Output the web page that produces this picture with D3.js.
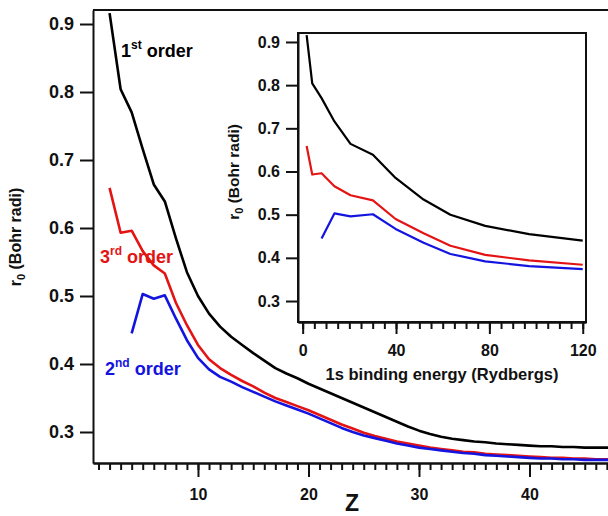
<!DOCTYPE html>
<html><head><meta charset="utf-8">
<script src="https://cdn.jsdelivr.net/npm/d3@7/dist/d3.min.js"></script>
<style>
body{margin:0;background:#fff}
text{font-family:"Liberation Sans",Arial,sans-serif;font-weight:bold;fill:#111}
</style>
</head><body>
<svg id="c" width="608" height="516"></svg>
<script>
// Atomic number Z (main chart x)
const Z = d3.range(2, 49);
// r0 (Bohr radii) per Z
const firstOrder = [0.916,0.804,0.770,0.716,0.664,0.639,0.585,0.535,0.500,0.474,0.455,0.440,
  0.428,0.416,0.405,0.394,0.386,0.379,0.371,0.364,0.357,0.350,0.343,0.336,0.329,0.322,0.315,0.308,
  0.302,0.297,0.293,0.290,0.288,0.286,0.285,0.283,0.282,0.281,0.280,0.279,0.279,0.278,0.278,0.277,0.277,0.277,0.277];
const secondOrder = [null,null,0.445,0.503,0.496,0.501,0.467,0.435,0.409,0.392,0.381,0.374,
  0.366,0.359,0.352,0.345,0.339,0.333,0.327,0.320,0.313,0.306,0.300,0.295,0.291,0.287,0.283,0.280,
  0.277,0.275,0.273,0.271,0.269,0.268,0.266,0.265,0.264,0.263,0.262,0.261,0.261,0.260,0.260,0.259,0.259,0.259,0.258];
const thirdOrder = [0.659,0.593,0.596,0.566,0.545,0.533,0.490,0.457,0.428,0.407,0.394,0.384,
  0.375,0.367,0.358,0.350,0.344,0.338,0.332,0.325,0.318,0.311,0.305,0.299,0.294,0.290,0.286,0.283,
  0.280,0.277,0.275,0.273,0.271,0.270,0.268,0.267,0.266,0.265,0.264,0.263,0.262,0.262,0.261,0.261,0.260,0.260,0.260];
// 1s binding energy (Rydbergs) for Z = 2..13 (inset x)
const bindingEnergy = [1.7,4.1,8.1,13.6,20.5,30.1,39.8,51.8,63.3,78.2,97,120];

const mainYTicks = [0.3,0.4,0.5,0.6,0.7,0.8,0.9];
const mainXTicks = [10,20,30,40];
const insetXTicks = [0,40,80,120];
const insetYTicks = [0.3,0.4,0.5,0.6,0.7,0.8,0.9];

const colors = {first:"#000000", second:"#1414e0", third:"#e41414"};

const svg = d3.select("#c");

// ---------- main chart ----------
const x = d3.scaleLinear().domain([0.5, 50]).range([93, 640]);
const y = d3.scaleLinear().domain([0.2544, 0.9206]).range([463, 10]);

const series = [
  {v:firstOrder, c:colors.first},
  {v:thirdOrder, c:colors.third},
  {v:secondOrder, c:colors.second}
];
const line = d3.line().defined(d => d[1] != null).x(d => x(d[0])).y(d => y(d[1]));
series.forEach(s => {
  svg.append("path").datum(Z.map((z,i)=>[z, s.v[i]]))
    .attr("d", line).attr("fill","none").attr("stroke", s.c)
    .attr("stroke-width", 2.6).attr("stroke-linejoin","round");
});

// frame top
svg.append("line").attr("x1",x.range()[0]).attr("x2",640).attr("y1",10).attr("y2",10)
  .attr("stroke","#111").attr("stroke-width",2);

const yAx = svg.append("g").attr("transform","translate(93,0)")
  .call(d3.axisLeft(y).tickValues(mainYTicks).tickSize(13).tickSizeOuter(0).tickPadding(6).tickFormat(d3.format(".1f")));
yAx.selectAll("text").style("font-size","18px").attr("font-family",null);
const xMinor = svg.append("g").attr("transform","translate(0,463)")
  .call(d3.axisBottom(x).tickValues(d3.range(1,48)).tickSize(7).tickSizeOuter(0).tickFormat(""));
const xAx = svg.append("g").attr("transform","translate(0,463)")
  .call(d3.axisBottom(x).tickValues(mainXTicks).tickSize(14).tickSizeOuter(0).tickPadding(12).tickFormat(d3.format("d")));
xAx.selectAll("text").style("font-size","16px").attr("font-family",null);
[yAx,xMinor,xAx].forEach(g=>{
  g.selectAll("path.domain").attr("stroke","#111").attr("stroke-width",2);
  g.selectAll(".tick line").attr("stroke","#111").attr("stroke-width",2);
});

svg.append("text").attr("x",352).attr("y",511).attr("text-anchor","middle")
  .style("font-size","23px").text("Z");

const yt = svg.append("text").attr("transform","translate(21,237) rotate(-90)")
  .attr("text-anchor","middle").style("font-size","16px");
yt.append("tspan").text("r");
yt.append("tspan").text("0").style("font-size","11px").attr("dy",4);
yt.append("tspan").text(" (Bohr radi)").attr("dy",-4);

function label(xp, yp, big, sup, color){
  const t = svg.append("text").attr("x",xp).attr("y",yp).style("font-size","18px").style("fill",color);
  t.append("tspan").text(big);
  t.append("tspan").text(sup).style("font-size","12px").attr("dy",-8);
  t.append("tspan").text(" order").attr("dy",8);
}
label(121, 57, "1", "st", colors.first);
label(100, 263, "3", "rd", colors.third);
label(105, 375, "2", "nd", colors.second);

// ---------- inset ----------
const ix = d3.scaleLinear().domain([-2, 121.4]).range([298, 586]);
const iy = d3.scaleLinear().domain([0.2514, 0.9208]).range([322, 33]);
svg.append("rect").attr("x",298).attr("y",33).attr("width",288).attr("height",289)
  .attr("fill","#fff").attr("stroke","#111").attr("stroke-width",2);
const iline = d3.line().defined(d => d[1] != null).x(d => ix(d[0])).y(d => iy(d[1]));
series.forEach(s => {
  svg.append("path").datum(bindingEnergy.map((e,i)=>[e, s.v[i]]))
    .attr("d", iline).attr("fill","none").attr("stroke", s.c)
    .attr("stroke-width", 2.2).attr("stroke-linejoin","round");
});
const iyAx = svg.append("g").attr("transform","translate(298,0)")
  .call(d3.axisLeft(iy).tickValues(insetYTicks).tickSize(12).tickSizeOuter(0).tickPadding(6).tickFormat(d3.format(".1f")));
iyAx.selectAll("text").style("font-size","16px").attr("font-family",null);
const ixMinor = svg.append("g").attr("transform","translate(0,322)")
  .call(d3.axisBottom(ix).tickValues(d3.range(0,121,5)).tickSize(7).tickSizeOuter(0).tickFormat(""));
const ixAx = svg.append("g").attr("transform","translate(0,322)")
  .call(d3.axisBottom(ix).tickValues(insetXTicks).tickSize(12).tickSizeOuter(0).tickPadding(11).tickFormat(d3.format("d")));
ixAx.selectAll("text").style("font-size","16px").attr("font-family",null);
[iyAx,ixMinor,ixAx].forEach(g=>{
  g.selectAll("path.domain").attr("stroke","#111").attr("stroke-width",2);
  g.selectAll(".tick line").attr("stroke","#111").attr("stroke-width",2);
});
svg.append("text").attr("x",442).attr("y",380).attr("text-anchor","middle")
  .style("font-size","16.5px").text("1s binding energy (Rydbergs)");
const iyt = svg.append("text").attr("transform","translate(239,172) rotate(-90)")
  .attr("text-anchor","middle").style("font-size","15.5px");
iyt.append("tspan").text("r");
iyt.append("tspan").text("0").style("font-size","11px").attr("dy",4);
iyt.append("tspan").text(" (Bohr radi)").attr("dy",-4);
</script>
</body></html>
